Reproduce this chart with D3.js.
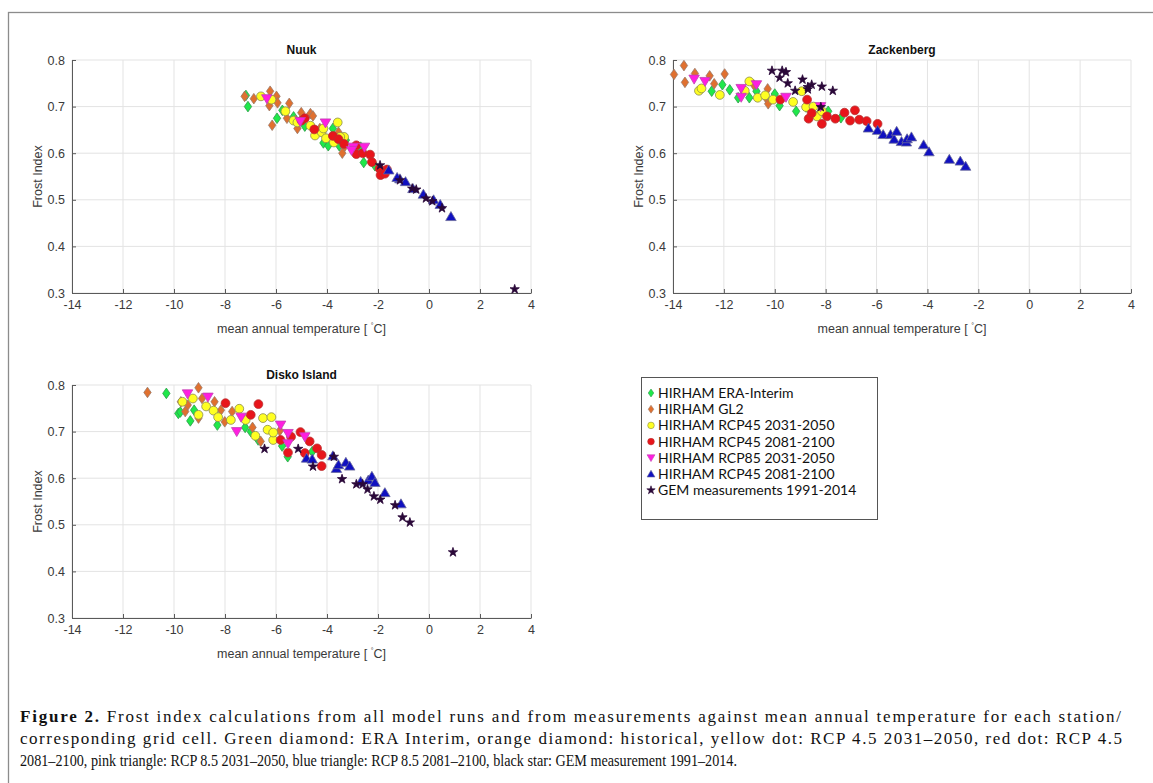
<!DOCTYPE html>
<html>
<head>
<meta charset="utf-8">
<script src="https://cdn.jsdelivr.net/npm/d3@7"></script>
<style>
  body { margin: 0; background: #fff; }
  svg { display: block; }
</style>
</head>
<body>
<svg id="fig" width="1153" height="783"></svg>
<script>
/// Data ///
// axis ticks
const xTicks = [-14, -12, -10, -8, -6, -4, -2, 0, 2, 4];
const yTicks = [0.3, 0.4, 0.5, 0.6, 0.7, 0.8];

// Nuuk
const nuukEra = [[-7.18,0.724],[-7.1,0.70],[-5.96,0.675],[-5.75,0.692],[-5.31,0.678],[-4.87,0.658],[-4.14,0.622],[-3.95,0.616],[-3.52,0.616],[-3.77,0.653],[-3.26,0.628],[-2.68,0.613],[-2.56,0.58],[-2.12,0.573]];
const nuukGl2 = [[-7.23,0.722],[-6.87,0.717],[-6.23,0.733],[-6.26,0.702],[-6.15,0.66],[-5.98,0.722],[-5.94,0.708],[-5.48,0.707],[-5.57,0.675],[-5.23,0.670],[-5.16,0.653],[-5.01,0.687],[-4.65,0.685],[-4.55,0.68],[-4.28,0.653],[-3.55,0.645],[-3.33,0.631],[-3.33,0.613],[-3.4,0.60]];
const nuukR45a = [[-6.59,0.722],[-6.18,0.715],[-5.63,0.69],[-5.31,0.67],[-5.16,0.666],[-4.65,0.659],[-4.47,0.638],[-4.21,0.645],[-4.14,0.653],[-4.04,0.632],[-3.58,0.666],[-3.33,0.635],[-3.73,0.623],[-3.48,0.635]];
const nuukR45b = [[-5.0,0.67],[-4.87,0.675],[-4.5,0.651],[-3.77,0.637],[-3.55,0.63],[-3.33,0.62],[-2.85,0.598],[-2.85,0.617],[-2.6,0.60],[-2.31,0.597],[-2.24,0.581],[-1.94,0.567],[-1.9,0.553],[-1.65,0.565],[-1.73,0.556]];
const nuukR85a = [[-6.36,0.717],[-4.06,0.665],[-2.97,0.613],[-3.04,0.606],[-2.53,0.613],[-5.05,0.668]];
const nuukR85b = [[-1.58,0.564],[-1.14,0.545],[-0.92,0.539],[-0.63,0.524],[-0.22,0.512],[0.18,0.50],[0.44,0.49],[0.86,0.464],[-1.25,0.548]];
const nuukGem = [[-1.92,0.574],[-1.14,0.542],[-0.66,0.524],[-0.5,0.522],[-0.12,0.503],[0.13,0.497],[0.51,0.482],[3.36,0.308]];

// Zackenberg
const zackEra = [[-12.48,0.733],[-12.06,0.747],[-11.77,0.736],[-11.44,0.719],[-11.0,0.719],[-10.72,0.733],[-10.0,0.727],[-9.81,0.702],[-9.16,0.69],[-8.77,0.699],[-8.26,0.685],[-7.9,0.69],[-7.4,0.676]];
const zackGl2 = [[-13.96,0.769],[-13.57,0.788],[-13.53,0.752],[-13.14,0.771],[-12.56,0.766],[-12.38,0.749],[-11.97,0.770],[-10.83,0.747],[-10.28,0.738],[-10.36,0.72],[-10.26,0.706]];
const zackR45a = [[-12.98,0.734],[-12.88,0.739],[-12.16,0.725],[-11.18,0.734],[-11.0,0.754],[-10.67,0.719],[-10.38,0.724],[-10.07,0.715],[-9.28,0.71],[-8.94,0.733],[-8.77,0.699],[-8.48,0.70],[-8.34,0.679],[-8.15,0.69]];
const zackR45b = [[-9.78,0.715],[-8.73,0.715],[-8.67,0.674],[-8.55,0.686],[-8.15,0.663],[-7.95,0.679],[-7.62,0.674],[-7.26,0.687],[-6.85,0.692],[-7.04,0.67],[-6.68,0.672],[-6.39,0.669],[-5.96,0.663]];
const zackR85a = [[-13.17,0.759],[-12.74,0.754],[-11.32,0.739],[-10.72,0.747],[-11.32,0.72],[-9.56,0.72],[-8.2,0.70]];
const zackR85b = [[-6.32,0.654],[-5.96,0.649],[-5.74,0.64],[-5.45,0.64],[-5.31,0.63],[-5.21,0.647],[-5.02,0.625],[-4.83,0.624],[-4.8,0.631],[-4.63,0.635],[-4.15,0.618],[-3.94,0.603],[-3.14,0.587],[-2.71,0.583],[-2.5,0.572]];
const zackGem = [[-10.11,0.777],[-9.81,0.762],[-9.71,0.777],[-9.56,0.774],[-9.49,0.75],[-9.2,0.734],[-8.91,0.758],[-8.7,0.742],[-8.7,0.737],[-8.55,0.747],[-8.15,0.743],[-7.72,0.734],[-8.19,0.699]];

// Disko Island
const diskoEra = [[-10.3,0.782],[-9.83,0.739],[-9.75,0.742],[-9.36,0.723],[-9.21,0.746],[-8.3,0.714],[-7.21,0.709],[-6.99,0.70],[-6.7,0.682],[-5.76,0.669],[-5.54,0.646],[-4.58,0.657]];
const diskoGl2 = [[-11.04,0.784],[-9.04,0.794],[-9.73,0.764],[-9.56,0.743],[-9.46,0.757],[-9.04,0.729],[-8.9,0.771],[-8.41,0.764],[-8.16,0.746],[-8.01,0.721],[-7.72,0.743],[-6.92,0.709],[-6.6,0.679],[-5.85,0.702]];
const diskoR45a = [[-9.67,0.764],[-9.26,0.771],[-9.04,0.736],[-8.74,0.754],[-8.45,0.745],[-8.27,0.731],[-7.77,0.725],[-7.44,0.749],[-7.19,0.725],[-6.81,0.691],[-6.51,0.729],[-6.18,0.731],[-6.33,0.704],[-6.11,0.682],[-6.11,0.698]];
const diskoR45b = [[-7.98,0.761],[-6.69,0.759],[-6.99,0.736],[-5.82,0.682],[-5.41,0.689],[-5.53,0.655],[-5.04,0.699],[-4.68,0.679],[-4.87,0.654],[-4.39,0.664],[-4.21,0.65],[-4.21,0.626]];
const diskoR85a = [[-9.47,0.781],[-8.67,0.774],[-7.54,0.70],[-7.37,0.731],[-5.82,0.714],[-5.53,0.696],[-5.53,0.674],[-4.87,0.689]];
const diskoR85b = [[-4.8,0.643],[-4.58,0.641],[-3.77,0.648],[-3.63,0.621],[-3.55,0.629],[-3.26,0.634],[-3.11,0.626],[-2.68,0.593],[-2.38,0.596],[-2.24,0.604],[-2.12,0.591],[-1.73,0.569],[-1.1,0.545]];
const diskoGem = [[-6.45,0.663],[-5.13,0.663],[-4.55,0.625],[-3.73,0.646],[-3.41,0.598],[-2.85,0.587],[-2.6,0.587],[-2.41,0.576],[-2.16,0.561],[-1.91,0.554],[-1.33,0.542],[-1.04,0.516],[-0.75,0.505],[0.94,0.441]];

// Series labels
const seriesNames = ["HIRHAM ERA-Interim", "HIRHAM GL2", "HIRHAM RCP45 2031-2050", "HIRHAM RCP45 2081-2100", "HIRHAM RCP85 2031-2050", "HIRHAM RCP45 2081-2100", "GEM measurements 1991-2014"];
const stationNames = ["Nuuk", "Zackenberg", "Disko Island"];

// Caption lines
const captionBold = "Figure 2.";
const captionLines = [
    " Frost index calculations from all model runs and from measurements against mean annual temperature for each station/",
    "corresponding grid cell. Green diamond: ERA Interim, orange diamond: historical, yellow dot: RCP 4.5 2031\u20132050, red dot: RCP 4.5",
    "2081\u20132100, pink triangle: RCP 8.5 2031\u20132050, blue triangle: RCP 8.5 2081\u20132100, black star: GEM measurement 1991\u20132014."
];

/// Styles & Layout ///
const styles = [
    {shape: "diamond", fill: "#1fe84a", stroke: "#2e9a4a", size: 4.6},
    {shape: "diamond", fill: "#e0702f", stroke: "#9a7a6a", size: 4.6},
    {shape: "circle",  fill: "#ffff22", stroke: "#8a8a50", size: 4.4},
    {shape: "circle",  fill: "#e8151b", stroke: "#b83030", size: 4.4},
    {shape: "tridown", fill: "#ff1ee0", stroke: "#c040b0", size: 5},
    {shape: "triup",   fill: "#1010c0", stroke: "#6a6a9a", size: 5},
    {shape: "star",    fill: "#2a0838", stroke: "#2a0838", size: 2.9}
];

const panels = [
    {name: stationNames[0], x0: 72, x1: 531, y0: 60, y1: 293, ylx: 42,
     data: [nuukEra, nuukGl2, nuukR45a, nuukR45b, nuukR85a, nuukR85b, nuukGem]},
    {name: stationNames[1], x0: 673, x1: 1131, y0: 60, y1: 293, ylx: 643,
     data: [zackEra, zackGl2, zackR45a, zackR45b, zackR85a, zackR85b, zackGem]},
    {name: stationNames[2], x0: 72, x1: 531, y0: 385, y1: 618, ylx: 42,
     data: [diskoEra, diskoGl2, diskoR45a, diskoR45b, diskoR85a, diskoR85b, diskoGem]}
];

const axisFont = "Liberation Sans, Arial, sans-serif";

// marker path for a given shape
function markerPath(shape, r) {
    if (shape === "diamond") {
        const w = r * 0.8, h = r * 1.15;
        return `M0,${-h}L${w},0L0,${h}L${-w},0Z`;
    }
    if (shape === "circle") {
        return d3.symbol(d3.symbolCircle, Math.PI * r * r)();
    }
    if (shape === "triup") {
        const h = r * 1.0;
        return `M0,${-h}L${h * 1.05},${h * 0.8}L${-h * 1.05},${h * 0.8}Z`;
    }
    if (shape === "tridown") {
        const h = r * 1.0;
        return `M0,${h}L${h * 1.05},${-h * 0.8}L${-h * 1.05},${-h * 0.8}Z`;
    }
    return d3.symbol(d3.symbolStar, r * r * 3.2)();
}

const svg = d3.select("#fig");

// outer frame
svg.append("rect")
    .attr("x", 8.5).attr("y", 12.5)
    .attr("width", 1200).attr("height", 800)
    .attr("fill", "none").attr("stroke", "#8c8c8c").attr("stroke-width", 1.3);

/// Draw Panels ///
function drawPanel(p) {
    const x = d3.scaleLinear().domain([-14, 4]).range([p.x0, p.x1]);
    const y = d3.scaleLinear().domain([0.3, 0.8]).range([p.y1, p.y0]);
    const g = svg.append("g");

    // grid
    g.append("g").selectAll("line").data(xTicks).enter().append("line")
        .attr("x1", d => x(d)).attr("x2", d => x(d))
        .attr("y1", p.y0).attr("y2", p.y1)
        .attr("stroke", "#e3e3e3").attr("stroke-width", 1);
    g.append("g").selectAll("line").data(yTicks).enter().append("line")
        .attr("x1", p.x0).attr("x2", p.x1)
        .attr("y1", d => y(d)).attr("y2", d => y(d))
        .attr("stroke", "#e3e3e3").attr("stroke-width", 1);

    // axes
    const xAxis = d3.axisBottom(x).tickValues(xTicks).tickSizeInner(-4).tickSizeOuter(0).tickPadding(7)
        .tickFormat(d => String(d));
    const yAxis = d3.axisLeft(y).tickValues(yTicks).tickSizeInner(-4).tickSizeOuter(0).tickPadding(7)
        .tickFormat(d => d.toFixed(1));
    const gx = g.append("g").attr("transform", `translate(0,${p.y1})`).call(xAxis);
    const gy = g.append("g").attr("transform", `translate(${p.x0},0)`).call(yAxis);
    [gx, gy].forEach(a => {
        a.select(".domain").attr("stroke", "#5a5a5a");
        a.selectAll(".tick line").attr("stroke", "#5a5a5a");
        a.selectAll("text").attr("fill", "#3a3a3a")
            .style("font-family", axisFont).style("font-size", "12.5px");
    });

    // title & labels
    g.append("text")
        .attr("x", (p.x0 + p.x1) / 2).attr("y", p.y0 - 6)
        .attr("text-anchor", "middle")
        .style("font-family", axisFont).style("font-size", "12px")
        .style("font-weight", "bold").attr("fill", "#111")
        .text(p.name);
    g.append("text")
        .attr("x", (p.x0 + p.x1) / 2).attr("y", p.y1 + 40)
        .attr("text-anchor", "middle")
        .style("font-family", axisFont).style("font-size", "12.5px")
        .attr("fill", "#3a3a3a")
        .text("mean annual temperature [ ")
        .append("tspan").attr("dy", -5).style("font-size", "7px").text("°")
        .append("tspan").attr("dy", 5).style("font-size", "12.5px").text("C]");
    g.append("text")
        .attr("transform", `translate(${p.ylx},${(p.y0 + p.y1) / 2}) rotate(-90)`)
        .attr("text-anchor", "middle")
        .style("font-family", axisFont).style("font-size", "12.5px")
        .attr("fill", "#3a3a3a")
        .text("Frost Index");

    // points
    p.data.forEach(function(series, i) {
        const s = styles[i];
        g.append("g").selectAll("path").data(series).enter().append("path")
            .attr("transform", d => `translate(${x(d[0])},${y(d[1])})`)
            .attr("d", markerPath(s.shape, s.size))
            .attr("fill", s.fill).attr("stroke", s.stroke).attr("stroke-width", 0.8);
    });
}

panels.forEach(drawPanel);

/// Legend ///
const legend = svg.append("g");
legend.append("rect")
    .attr("x", 641.5).attr("y", 377.5).attr("width", 236).attr("height", 142)
    .attr("fill", "#fff").attr("stroke", "#555").attr("stroke-width", 1);
seriesNames.forEach(function(name, i) {
    const s = styles[i];
    const yy = 393 + i * 16.2;
    legend.append("path")
        .attr("transform", `translate(651,${yy})`)
        .attr("d", markerPath(s.shape, s.size * (i === 6 ? 0.9 : 0.75)))
        .attr("fill", s.fill).attr("stroke", s.stroke).attr("stroke-width", 0.6);
    legend.append("text")
        .attr("x", 658).attr("y", yy + 5)
        .style("font-family", "Lato, Carlito, sans-serif").style("font-size", "14px")
        .attr("fill", "#111")
        .text(name);
});

/// Caption ///
const capFont = "Liberation Serif, Times New Roman, serif";
const capBase = [722, 744, 766];
const capWidth = [1101, 1102, 717];   // justified lines 1-2, natural last line
captionLines.forEach(function(line, i) {
    const t = svg.append("text").attr("x", 20).attr("y", capBase[i])
        .style("font-family", capFont).style("font-size", "17px").attr("fill", "#111")
        .attr("textLength", capWidth[i])
        .attr("lengthAdjust", i < 2 ? "spacing" : "spacingAndGlyphs");
    if (i === 0) {
        t.append("tspan").style("font-weight", "bold").text(captionBold);
    }
    t.append("tspan").text(line);
});
</script>
</body>
</html>
